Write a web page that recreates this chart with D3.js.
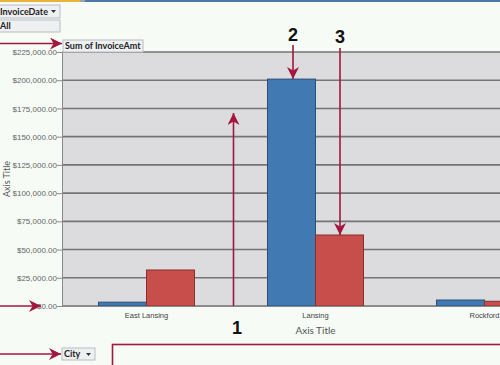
<!DOCTYPE html>
<html>
<head>
<meta charset="utf-8">
<script src="https://cdn.jsdelivr.net/npm/d3@7"></script>
<style>
  body { margin: 0; background: #f7fbf6; }
  svg { display: block; font-family: Lato, "Open Sans", sans-serif; }
</style>
</head>
<body>
<svg id="chart" width="500" height="365"></svg>
<script>
// data
const cities = ['East Lansing', 'Lansing', 'Rockford'];
const series = ['s1', 's2'];
const blueValues = [3400, 201000, 5300];
const redValues = [31900, 62900, 4200];
const yTicks = [0, 25000, 50000, 75000, 100000, 125000, 150000, 175000, 200000, 225000];

const svg = d3.select('#chart');
const annot = '#a3163f';

const plotLeft = 62, plotTop = 52, plotBottom = 306;
const bandStep = 169;

const x0 = d3.scaleBand().domain(cities).range([plotLeft, plotLeft + bandStep * cities.length]);
const x1 = d3.scaleBand().domain(series).range([0, x0.bandwidth()]).paddingInner(0).paddingOuter(0.76);
const y = d3.scaleLinear().domain([0, 225000]).range([plotBottom, plotTop]);

// top strip
svg.append('rect').attr('x', 0).attr('y', 0).attr('width', 80).attr('height', 2).attr('fill', '#e9b23c');
svg.append('rect').attr('x', 80).attr('y', 0).attr('width', 5).attr('height', 2).attr('fill', '#9aa3aa');
svg.append('rect').attr('x', 85).attr('y', 0).attr('width', 415).attr('height', 2).attr('fill', '#4b78a8');

// plot background
svg.append('rect')
  .attr('x', plotLeft).attr('y', plotTop)
  .attr('width', 500 - plotLeft).attr('height', plotBottom - plotTop)
  .attr('fill', '#dcdcdf');

// gridlines
svg.append('g')
  .selectAll('line')
  .data(yTicks)
  .enter()
  .append('line')
  .attr('x1', plotLeft).attr('x2', 500)
  .attr('y1', d => y(d)).attr('y2', d => y(d))
  .attr('stroke', '#747474')
  .attr('stroke-width', 1.6);

// y axis
const yAxis = svg.append('g')
  .attr('transform', `translate(${plotLeft},0)`)
  .call(d3.axisLeft(y).tickValues(yTicks).tickSize(5).tickFormat(d => '$' + d3.format(',.2f')(d)));
yAxis.select('.domain').attr('stroke', '#8a8a8a');
yAxis.selectAll('.tick line').attr('stroke', '#8a8a8a');
yAxis.selectAll('text').attr('fill', '#666').attr('font-size', 8).attr('x', -5);

// bars
const groups = svg.append('g')
  .selectAll('g')
  .data(cities)
  .enter()
  .append('g')
  .attr('transform', d => `translate(${x0(d)},0)`);

groups.append('rect')
  .attr('x', x1('s1'))
  .attr('y', (d, i) => y(blueValues[i]))
  .attr('width', x1.bandwidth())
  .attr('height', (d, i) => y(0) - y(blueValues[i]))
  .attr('fill', '#4179b2')
  .attr('stroke', '#2b4f78');

groups.append('rect')
  .attr('x', x1('s2'))
  .attr('y', (d, i) => y(redValues[i]))
  .attr('width', x1.bandwidth())
  .attr('height', (d, i) => y(0) - y(redValues[i]))
  .attr('fill', '#c84e4c')
  .attr('stroke', '#86302f');

// x axis
const xAxis = svg.append('g')
  .attr('transform', `translate(0,${plotBottom})`)
  .call(d3.axisBottom(x0).tickSize(0).tickPadding(7));
xAxis.select('.domain').attr('stroke', '#8a8a8a');
xAxis.selectAll('text').attr('fill', '#444').attr('font-size', 7.5);

// axis titles
svg.append('text')
  .attr('x', plotLeft + bandStep * cities.length / 2).attr('y', 334)
  .attr('text-anchor', 'middle')
  .attr('font-size', 10).attr('fill', '#555')
  .text('Axis Title');

svg.append('text')
  .attr('transform', `translate(10,${(plotTop + plotBottom) / 2}) rotate(-90)`)
  .attr('text-anchor', 'middle')
  .attr('font-size', 9).attr('fill', '#555')
  .text('Axis Title');

// field buttons
const fieldBox = (x, yy, w, h, label, arrow) => {
  const g = svg.append('g');
  g.append('rect').attr('x', x).attr('y', yy).attr('width', w).attr('height', h)
    .attr('fill', '#eef0f2').attr('stroke', '#b8bcc2');
  g.append('text').attr('x', x + 2).attr('y', yy + h - 3)
    .attr('font-size', 9).attr('font-weight', 'bold').attr('fill', '#222').text(label);
  if (arrow) {
    g.append('path')
      .attr('d', `M${x + w - 9},${yy + 5}h5l-2.5,3z`)
      .attr('fill', '#333');
  }
};
fieldBox(-2, 5, 62, 13, 'InvoiceDate', true);
fieldBox(-2, 20, 62, 12, 'All', false);
fieldBox(63, 40, 80, 12, 'Sum of InvoiceAmt', false);
fieldBox(62, 348, 33, 12, 'City', true);

// annotations
svg.append('defs').append('marker')
  .attr('id', 'head')
  .attr('viewBox', '0 0 10 10')
  .attr('refX', 10).attr('refY', 5)
  .attr('markerWidth', 12).attr('markerHeight', 12)
  .attr('markerUnits', 'userSpaceOnUse')
  .attr('orient', 'auto')
  .append('path').attr('d', 'M0,0L10,5L0,10L3,5z').attr('fill', annot);

const arrow = (ax1, ay1, ax2, ay2) =>
  svg.append('line')
    .attr('x1', ax1).attr('y1', ay1).attr('x2', ax2).attr('y2', ay2)
    .attr('stroke', annot).attr('stroke-width', 1.6)
    .attr('marker-end', 'url(#head)');

arrow(0, 43.5, 62, 43.5);
arrow(0, 306, 41, 306);
arrow(0, 354, 61, 354);
arrow(233.5, 306, 233.5, 113);
arrow(293, 45, 293, 79);
arrow(340, 48, 340, 235);

svg.append('rect')
  .attr('x', 112.5).attr('y', 344.5).attr('width', 400).attr('height', 30)
  .attr('fill', 'none').attr('stroke', annot).attr('stroke-width', 1.6);

const num = (x, yy, t) =>
  svg.append('text').attr('x', x).attr('y', yy)
    .attr('text-anchor', 'middle')
    .attr('font-family', '"Liberation Sans", Arial, sans-serif')
    .attr('font-size', 18).attr('font-weight', 'bold').attr('fill', '#111')
    .text(t);
num(237, 334, '1');
num(293, 41, '2');
num(340, 43, '3');
</script>
</body>
</html>
